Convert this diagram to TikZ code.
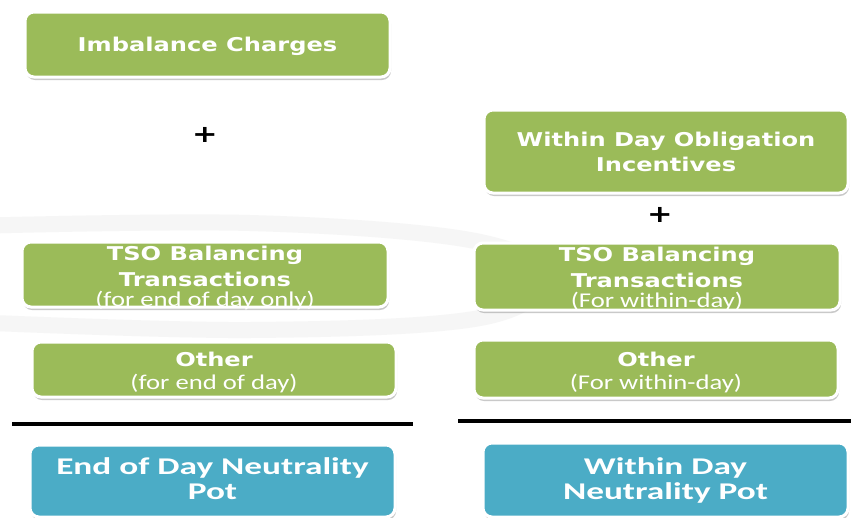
\documentclass[tikz,border=0pt]{standalone}
\usepackage{fontspec}
\usetikzlibrary{shadows}
\newfontfamily\gf[FakeStretch=1.27]{DejaVu Sans}
\newfontfamily\cf[FakeStretch=1.27]{Carlito}
\newfontfamily\bcf[FakeStretch=1.47]{Carlito}
\definecolor{boxgreen}{HTML}{9BBB59}
\definecolor{boxblue}{HTML}{4BACC6}
% title font with given baselineskip
\newcommand{\gt}[1]{\gf\bfseries\fontsize{19}{#1}\selectfont}
\newcommand{\st}{\cf\mdseries\fontsize{21}{21}\selectfont}
\newcommand{\bt}{\bcf\bfseries\fontsize{24}{25}\selectfont}
\tikzset{
  basebox/.style={rounded corners=9pt, draw=white, line width=3pt,
    inner sep=0pt,
    drop shadow={shadow xshift=1pt, shadow yshift=-3pt, opacity=0.35, fill=black!60}},
  gbox/.style={basebox, fill=boxgreen},
  bbox/.style={basebox, fill=boxblue},
  txt/.style={text=white, align=center, inner sep=0pt},
  btxt/.style={txt, font=\bt},
  plus/.style={inner sep=0pt, text=black, font={\gf\bfseries\fontsize{24}{24}\selectfont}},
  rule/.style={line width=4pt, black},
  swoosh/.style={gray!7, line width=16pt, line cap=round}
}
\begin{document}
\begin{tikzpicture}[x=1pt,y=-1pt]
\useasboundingbox (0,0) rectangle (851,517);
\fill[white] (0,0) rectangle (851,517);
\draw[swoosh] plot[smooth, tension=0.6] coordinates {(-30,226) (250,223) (470,240) (545,276) (480,318) (250,330) (-30,322)};

% boxes
\node[gbox, minimum width=365, minimum height=65] (imb) at (207.5,44.5) {};
\node[gbox, minimum width=364, minimum height=83] (wdoi) at (666,151.5) {};
\node[gbox, minimum width=366, minimum height=65] (tsol) at (205,274.5) {};
\node[gbox, minimum width=366, minimum height=67] (tsor) at (657,276.5) {};
\node[gbox, minimum width=364, minimum height=55] (othl) at (214,369.5) {};
\node[gbox, minimum width=364, minimum height=58] (othr) at (656,369) {};
\node[bbox, minimum width=365, minimum height=72] (eod) at (212.5,481) {};
\node[bbox, minimum width=365, minimum height=74] (wdn) at (665.5,480) {};

% texts
\node[txt, font={\gt{25}}] (imbt) at ([yshift=-2pt]imb.center) {Imbalance Charges};
\node[txt, font={\gt{25}}] (wdoit) at (wdoi.center) {Within Day Obligation\\Incentives};
\node[txt, font={\gt{26}}] (tsolt) at ([yshift=-3pt]tsol.center)
  {TSO Balancing\\Transactions\\[-6pt]{\st (for end of day only)}};
\node[txt, font={\gt{26}}] (tsort) at ([yshift=-2pt]tsor.center)
  {TSO Balancing\\Transactions\\[-6pt]{\st (For within-day)}};
\node[txt, font={\gt{23}}] (othlt) at ([yshift=-3pt]othl.center) {Other\\{\st (for end of day)}};
\node[txt, font={\gt{23}}] (othrt) at ([yshift=-3pt]othr.center) {Other\\{\st (For within-day)}};
\node[btxt] (eodt) at ([yshift=2pt]eod.center) {End of Day Neutrality\\Pot};
\node[btxt] (wdnt) at (wdn.center) {Within Day\\Neutrality Pot};

% plus signs
\node[plus] (p1) at (205,135) {+};
\node[plus] (p2) at (660,215) {+};

% rules
\coordinate (l1a) at (12,424);
\coordinate (l1b) at (413,424);
\coordinate (l2a) at (458,421);
\coordinate (l2b) at (851,421);
\draw[rule] (l1a) -- (l1b);
\draw[rule] (l2a) -- (l2b);
\end{tikzpicture}
\end{document}
